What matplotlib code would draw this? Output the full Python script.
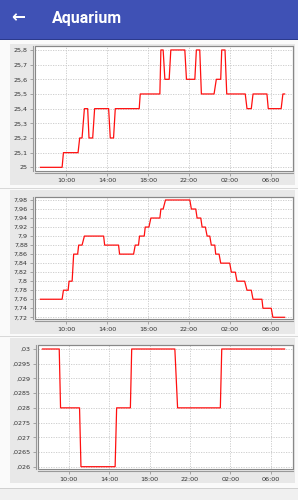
import numpy as np
import matplotlib
matplotlib.use("Agg")
import matplotlib.pyplot as plt
from matplotlib.patches import Rectangle
from matplotlib.ticker import FuncFormatter

# time axis in hours from midnight of the first day
hour_ticks = [10, 14, 18, 22, 26, 30]
hour_labels = ["10:00", "14:00", "18:00", "22:00", "02:00", "06:00"]

# temperature
t1 = [7.49, 9.61, 9.74, 11.17, 11.33, 11.56, 11.79, 12.11, 12.24, 12.60, 12.79,
      14.16, 14.32, 14.64, 14.81, 17.15, 17.25, 19.17, 19.27, 19.49, 19.66, 20.08,
      20.24, 21.61, 21.77, 22.59, 22.74, 23.07, 23.23, 24.47, 24.69, 25.12, 25.22,
      25.54, 25.71, 27.52, 27.69, 28.11, 28.28, 29.64, 29.77, 31.03, 31.20, 31.37]
v1 = [25.0, 25.0, 25.1, 25.1, 25.2, 25.2, 25.4, 25.4, 25.2, 25.2, 25.4,
      25.4, 25.2, 25.2, 25.4, 25.4, 25.5, 25.5, 25.8, 25.8, 25.6, 25.6,
      25.8, 25.8, 25.6, 25.6, 25.8, 25.8, 25.5, 25.5, 25.6, 25.6, 25.8,
      25.8, 25.5, 25.5, 25.4, 25.4, 25.5, 25.5, 25.4, 25.4, 25.5, 25.5]

# pH
t2 = [7.49, 9.61, 9.74, 10.20, 10.29, 10.59, 10.74, 11.13, 11.23, 11.56, 11.79,
      13.67, 13.77, 15.13, 15.23, 16.60, 16.76, 17.08, 17.18, 17.64, 17.74, 18.10,
      18.29, 19.17, 19.27, 19.49, 19.72, 22.10, 22.25, 22.68, 22.81, 23.17, 23.30,
      23.62, 23.79, 24.05, 24.20, 24.54, 24.63, 24.96, 25.12, 26.00, 26.16, 26.55,
      26.71, 27.46, 27.69, 28.11, 28.28, 29.15, 29.25, 30.06, 30.22, 31.37]
v2 = [7.76, 7.76, 7.78, 7.78, 7.80, 7.80, 7.86, 7.86, 7.88, 7.88, 7.90,
      7.90, 7.88, 7.88, 7.86, 7.86, 7.88, 7.88, 7.90, 7.90, 7.92, 7.92,
      7.94, 7.94, 7.96, 7.96, 7.98, 7.98, 7.96, 7.96, 7.94, 7.94, 7.92,
      7.92, 7.90, 7.90, 7.88, 7.88, 7.86, 7.86, 7.84, 7.84, 7.82, 7.82,
      7.80, 7.80, 7.78, 7.78, 7.76, 7.76, 7.74, 7.74, 7.72, 7.72]

# third sensor
t3 = [7.40, 9.06, 9.19, 11.07, 11.21, 14.59, 14.74, 16.10, 16.23, 20.50, 20.77,
      25.00, 25.14, 31.36]
v3 = [0.030, 0.030, 0.028, 0.028, 0.026, 0.026, 0.028, 0.028, 0.030, 0.030, 0.028,
      0.028, 0.030, 0.030]

W, H = 298, 500
fig = plt.figure(figsize=(W / 100, H / 100), dpi=100, facecolor="#FAFAFA")


def box(x0, y0, x1, y1):
    return [x0 / W, 1 - y1 / H, (x1 - x0) / W, (y1 - y0) / H]


def fig_rect(x0, y0, x1, y1, color):
    fig.patches.append(Rectangle((x0 / W, 1 - y1 / H), (x1 - x0) / W, (y1 - y0) / H,
                                 transform=fig.transFigure, facecolor=color,
                                 edgecolor="none", zorder=-10))


# header bar
fig_rect(0, 0, W, 39, "#3F51B5")
fig_rect(0, 39, W, 40, "#2C3A8C")
fig.text(18 / W, 1 - 17.5 / H, "\u2190", color="white", fontsize=12, fontweight="bold",
         ha="center", va="center")
fig.text(52 / W, 1 - 19 / H, "Aquarium", color="white", fontsize=11.5,
         family="Roboto", fontweight="bold", ha="left", va="center")

# panels and separators
fig_rect(10, 44, 295, 185, "#E8E8E8")
fig_rect(0, 187.5, W, 188.5, "#D8D8D8")
fig_rect(10, 190, 295, 334, "#E8E8E8")
fig_rect(0, 335.5, W, 336.5, "#D8D8D8")
fig_rect(10, 338, 295, 483, "#E8E8E8")
fig_rect(0, 487.5, W, 488.5, "#D0D0D0")
fig_rect(0, 488.5, W, H, "#F0F0F0")


def fmt(v, pos):
    s = f"{v:.4f}".rstrip("0").rstrip(".").replace(".", ",")
    if s.startswith("0,"):
        s = s[1:]
    return s


def chart(rect, t, v, ylim, yticks):
    ax = fig.add_axes(box(*rect))
    ax.set_facecolor("white")
    ax.plot(t, v, color="#FF1010", linewidth=0.9, zorder=3)
    ax.set_xlim(6.93, 32.14)
    ax.set_ylim(*ylim)
    ax.set_xticks(hour_ticks)
    ax.set_xticklabels(hour_labels)
    ax.set_yticks(yticks)
    ax.yaxis.set_major_formatter(FuncFormatter(fmt))
    ax.grid(True, color="#C8C8C8", linestyle=(0, (1.5, 1.5)), linewidth=0.6)
    for side in ["top", "right"]:
        ax.spines[side].set_color("#888888")
        ax.spines[side].set_linewidth(0.8)
    for side in ["left", "bottom"]:
        ax.spines[side].set_position(("outward", 1.5))
        ax.spines[side].set_color("#999999")
        ax.spines[side].set_linewidth(0.8)
    # inner frame of the plot area
    ax.add_patch(Rectangle((0, 0), 1, 1, transform=ax.transAxes, fill=False,
                           edgecolor="#888888", linewidth=0.8, zorder=4, clip_on=False))
    ax.tick_params(axis="both", labelsize=4.6, colors="#999999", labelcolor="#333333",
                   length=2, width=0.6, pad=1.5)
    ax.tick_params(axis="x", pad=2)
    return ax


chart((34.7, 46, 292.5, 170.7), t1, v1, (24.977, 25.827),
      np.round(np.arange(25.0, 25.81, 0.1), 2))
chart((34.7, 196.7, 292.5, 319), t2, v2, (7.7162, 7.9873),
      np.round(np.arange(7.72, 7.981, 0.02), 2))
chart((37.7, 345, 292.5, 469), t3, v3, (0.025922, 0.030136),
      np.round(np.arange(0.026, 0.03001, 0.0005), 4))

fig.savefig("out.png", dpi=100, facecolor=fig.get_facecolor())
